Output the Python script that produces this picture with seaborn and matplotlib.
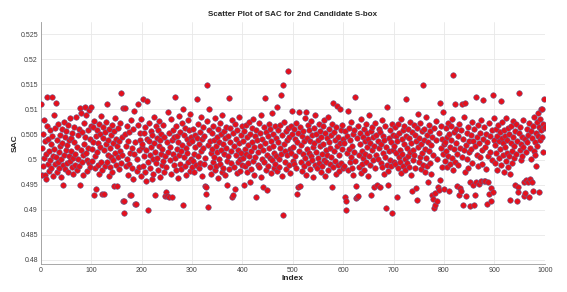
# Scatter of SAC values for the 2nd candidate S-box (x1e-4)
import numpy as np
import pandas as pd
import matplotlib
matplotlib.use("Agg")
import matplotlib.pyplot as plt
import seaborn as sns

sac_001_100 = [5110, 5024, 4970, 5051, 4988, 5079, 5003, 5036, 4970, 4961,
               5012, 5067, 5125, 4992, 5041, 4978, 5018, 5058, 4999, 5031,
               4983, 5125, 5046, 5007, 4968, 5089, 5022, 4991, 5063, 5112,
               5005, 4976, 5038, 5071, 4996, 5015, 4984, 5049, 5027, 5002,
               4965, 5060, 5033, 4989, 4949, 5074, 5010, 4981, 5045, 5020,
               5056, 4993, 5029, 5068, 4975, 5039, 5008, 4998, 5082, 5017,
               5043, 4986, 5052, 5004, 4972, 5035, 5065, 5011, 4990, 5084,
               5026, 4979, 5048, 5001, 5061, 4987, 4949, 5103, 5019, 5092,
               4995, 5054, 5009, 4969, 5072, 5030, 5105, 5044, 5013, 5088,
               5000, 4977, 5059, 5023, 4994, 5098, 5040, 4985, 5066, 5105]

sac_101_200 = [5021, 4998, 5064, 5035, 4929, 5077, 5008, 4983, 5046, 4941,
               5015, 5058, 4990, 5033, 5070, 4972, 5026, 5051, 4995, 5086,
               4932, 4979, 5042, 5065, 5019, 4932, 5054, 4987, 5030, 5075,
               5110, 4996, 5039, 5010, 4968, 5061, 5024, 4985, 5048, 5006,
               4976, 5069, 5032, 4999, 5057, 4947, 5013, 5083, 4990, 5040,
               5027, 4947, 5062, 5005, 5037, 4981, 5073, 5018, 5132, 4994,
               5045, 5009, 5103, 4918, 4893, 4917, 5050, 5103, 4988, 5028,
               5066, 5001, 4970, 5036, 5055, 4992, 5014, 4929, 5078, 4929,
               4984, 5023, 5060, 4961, 5097, 5011, 5034, 4912, 4912, 5002,
               4978, 5068, 5110, 5020, 4986, 5053, 5038, 4967, 5080, 5025]

sac_201_300 = [5030, 4988, 5120, 5052, 5007, 4975, 5064, 5019, 4958, 5041,
               5117, 4996, 4900, 5036, 5073, 5010, 4983, 5057, 5025, 4962,
               5048, 5001, 4971, 5085, 5032, 4930, 5015, 5066, 4993, 5043,
               5004, 5059, 4980, 5027, 5076, 4966, 5038, 5012, 5050, 4989,
               5021, 5069, 4997, 5045, 4976, 4927, 5008, 4935, 4985, 4927,
               5034, 5094, 5016, 4925, 5053, 4999, 5026, 4972, 5081, 5039,
               4925, 5011, 5058, 4990, 5044, 5125, 5003, 4979, 5067, 5022,
               5047, 4964, 5035, 5087, 5009, 4992, 5055, 5018, 4982, 5072,
               5029, 4910, 5100, 5006, 5049, 4987, 5063, 5024, 4969, 5040,
               5014, 5079, 4995, 5033, 5058, 4978, 5091, 5002, 5045, 4986]

sac_301_400 = [5037, 4998, 5061, 5012, 4975, 5049, 5026, 4989, 5120, 5043,
               5008, 5070, 4983, 5031, 5055, 4994, 5018, 5084, 4967, 5040,
               5023, 5064, 4991, 5047, 5004, 4947, 4945, 4932, 5076, 5149,
               4906, 5029, 5058, 5100, 4985, 5036, 5013, 4972, 5052, 5021,
               5067, 4996, 5039, 5005, 4979, 5082, 5027, 4988, 5045, 5016,
               4963, 5060, 5034, 5001, 5073, 4992, 5019, 5050, 4976, 5088,
               5030, 4984, 5056, 5011, 5042, 4969, 5065, 5024, 4997, 4950,
               5046, 5007, 5122, 4981, 5035, 5062, 4993, 5017, 5079, 4926,
               4929, 5053, 5028, 4986, 4941, 5070, 5009, 5040, 4974, 5058,
               5020, 4995, 5085, 5033, 5002, 4978, 5048, 5014, 5066, 4990]

sac_401_500 = [5036, 5003, 4950, 5057, 5021, 4987, 5068, 5012, 4976, 5044,
               5029, 4993, 5075, 5008, 4955, 5050, 5017, 4982, 5062, 5034,
               4998, 5081, 5025, 4970, 5046, 5006, 5059, 4925, 5038, 4990,
               5015, 5072, 4985, 5053, 5027, 4966, 5088, 5002, 5041, 4945,
               5019, 5064, 4996, 5032, 5122, 4979, 5055, 4939, 5010, 5047,
               4988, 5071, 5023, 5004, 5060, 4973, 5037, 5092, 4999, 5028,
               5051, 4984, 5014, 5066, 4992, 5043, 5007, 5105, 4977, 5035,
               5058, 5001, 4986, 5024, 5069, 5011, 5128, 4968, 5049, 5149,
               4890, 5030, 5074, 4995, 5018, 5056, 4981, 5039, 5009, 5063,
               5176, 4989, 5045, 5022, 4974, 5067, 5013, 5051, 5097, 4997]

sac_501_600 = [5026, 5061, 4992, 5040, 5008, 5073, 4983, 5034, 4931, 5052,
               4945, 5018, 5095, 4948, 5065, 4996, 5029, 5047, 4977, 5011,
               5056, 4988, 5036, 5082, 5003, 5095, 4970, 5043, 5021, 5069,
               4994, 5014, 5058, 4981, 5037, 5007, 5076, 4999, 5048, 5025,
               4965, 5062, 5032, 4990, 5089, 5016, 5051, 4984, 5039, 5004,
               5070, 4993, 5027, 5057, 4975, 5044, 5012, 4987, 5066, 5031,
               5000, 5079, 4968, 5053, 5020, 4996, 5042, 5009, 5085, 4980,
               5035, 5060, 4991, 5024, 5048, 5006, 4945, 5071, 5112, 4986,
               5017, 5054, 4998, 5038, 4972, 5064, 5028, 5107, 4989, 5045,
               5010, 4977, 5100, 5033, 5059, 4994, 5022, 5068, 4984, 5041]

sac_601_700 = [5032, 4988, 5056, 4925, 4917, 4900, 5047, 5013, 4979, 5096,
               5021, 5063, 4995, 5039, 5005, 5074, 4983, 5028, 5050, 4970,
               5015, 5058, 4998, 5125, 4947, 4924, 4925, 5042, 4927, 5066,
               5009, 4986, 5053, 5030, 4974, 5081, 5018, 4992, 5045, 5003,
               5061, 4980, 5036, 5012, 5070, 4996, 5025, 5052, 4967, 5040,
               5007, 5088, 4989, 5033, 5057, 4930, 5019, 5064, 4999, 5044,
               4945, 5027, 5072, 4984, 5010, 5049, 4950, 5037, 5002, 5060,
               5023, 4945, 5055, 4993, 5031, 5078, 4985, 5014, 5046, 4971,
               5038, 5006, 5067, 4903, 5026, 4990, 5105, 4950, 4978, 5017,
               5043, 5000, 5059, 4987, 5034, 5071, 4893, 5020, 5048, 4995]

sac_701_800 = [5028, 4991, 5064, 5013, 5046, 4925, 5037, 4983, 5070, 5005,
               5052, 4996, 5019, 5081, 4974, 5040, 5011, 5058, 4988, 5030,
               5066, 5002, 4979, 5047, 5121, 4993, 5024, 5061, 5008, 4986,
               5042, 5015, 5075, 4969, 5033, 5054, 4937, 5020, 4999, 5068,
               5010, 5049, 4984, 5036, 4943, 5063, 4920, 5026, 5090, 4995,
               5043, 5006, 5072, 4981, 5031, 5057, 5014, 5149, 4990, 5039,
               5060, 4976, 5022, 5085, 5003, 5048, 4987, 4955, 5034, 5069,
               5017, 4994, 5056, 5029, 4972, 4930, 5045, 5009, 4922, 5062,
               4903, 4910, 4933, 5038, 5077, 4917, 5001, 4945, 4939, 5052,
               5112, 4960, 5024, 5066, 4985, 5041, 5012, 5094, 4942, 5030]

sac_801_900 = [5035, 4998, 5062, 5017, 5044, 4986, 5073, 5008, 4937, 5051,
               5026, 4992, 5067, 5039, 5003, 5080, 4980, 5168, 5021, 5055,
               4996, 5110, 5033, 5060, 4947, 5012, 5046, 4989, 4930, 5071,
               5024, 4943, 5058, 4937, 5110, 5006, 5040, 4910, 5084, 5019,
               4975, 5113, 5029, 4928, 5052, 5001, 5065, 4984, 5037, 5015,
               4955, 4908, 5048, 5022, 5074, 4993, 4949, 5036, 5061, 4910,
               5027, 4930, 5125, 4955, 5044, 5010, 5069, 4988, 5032, 4952,
               5053, 5005, 4958, 5078, 5019, 4991, 5041, 5118, 4957, 5064,
               4958, 5026, 5050, 4982, 5034, 4912, 4955, 5008, 4932, 5072,
               5015, 5047, 4917, 4943, 5059, 5000, 5128, 4935, 5038, 5083]

sac_901_1000 = [5029, 4994, 5061, 5013, 5047, 4980, 5068, 5036, 5003, 5055,
                5021, 5116, 4989, 5042, 5074, 5009, 5033, 4976, 5058, 5025,
                5046, 4998, 5083, 5014, 5039, 4986, 5063, 5007, 5051, 4971,
                4920, 5032, 5066, 5018, 4993, 5044, 5077, 5004, 5028, 5057,
                4950, 5011, 5070, 5037, 4917, 4945, 4935, 5052, 5132, 5020,
                5064, 4999, 5031, 5045, 5008, 5079, 5026, 4927, 4955, 4933,
                5040, 5015, 4960, 5060, 5035, 4955, 5049, 4925, 5072, 4962,
                5023, 5056, 5002, 4955, 5043, 4937, 5067, 5018, 5085, 5034,
                5010, 5052, 4988, 5075, 5027, 5046, 5093, 5064, 4935, 5039,
                5081, 5058, 5100, 5044, 5100, 5070, 5016, 5062, 5120, 5065]

y_ticks = [0.48, 0.485, 0.49, 0.495, 0.5, 0.505, 0.51, 0.515, 0.52, 0.525]
x_ticks = list(range(0, 1001, 100))

sac = np.concatenate([sac_001_100, sac_101_200, sac_201_300, sac_301_400,
                      sac_401_500, sac_501_600, sac_601_700, sac_701_800,
                      sac_801_900, sac_901_1000]) / 10000
df = pd.DataFrame({'Index': np.arange(1, len(sac) + 1), 'SAC': sac})

sns.set_style('whitegrid')
plt.rcParams['font.family'] = ['Liberation Sans', 'DejaVu Sans']

fig = plt.figure(figsize=(5.67, 2.92), dpi=100)
ax = fig.add_axes([0.0718, 0.0959, 0.8892, 0.8288])

sns.scatterplot(data=df, x='Index', y='SAC', ax=ax,
                color='#e5101c', edgecolor='#6a5a8a', linewidth=0.4, s=16,
                zorder=3)

ax.set_xlim(0, 1000)
ax.set_ylim(0.4792, 0.5274)
ax.set_xticks(x_ticks)
ax.set_yticks(y_ticks)
ax.set_yticklabels(['%g' % t for t in y_ticks])
ax.tick_params(labelsize=5, colors='#404040', length=2, width=0.5,
               direction='in', pad=2)
ax.grid(True, color='#e8e8e8', linewidth=0.6)

for side in ['top', 'right']:
    ax.spines[side].set_visible(False)
for side in ['left', 'bottom']:
    ax.spines[side].set_color('#9a9a9a')
    ax.spines[side].set_linewidth(0.6)

ax.set_title('Scatter Plot of SAC for 2nd Candidate S-box',
             fontsize=5.8, fontweight='bold', pad=4)
ax.set_xlabel('Index', fontsize=6, fontweight='bold', labelpad=1)
ax.set_ylabel('SAC', fontsize=6, fontweight='bold', labelpad=1)

fig.savefig('out.png', dpi=100)
